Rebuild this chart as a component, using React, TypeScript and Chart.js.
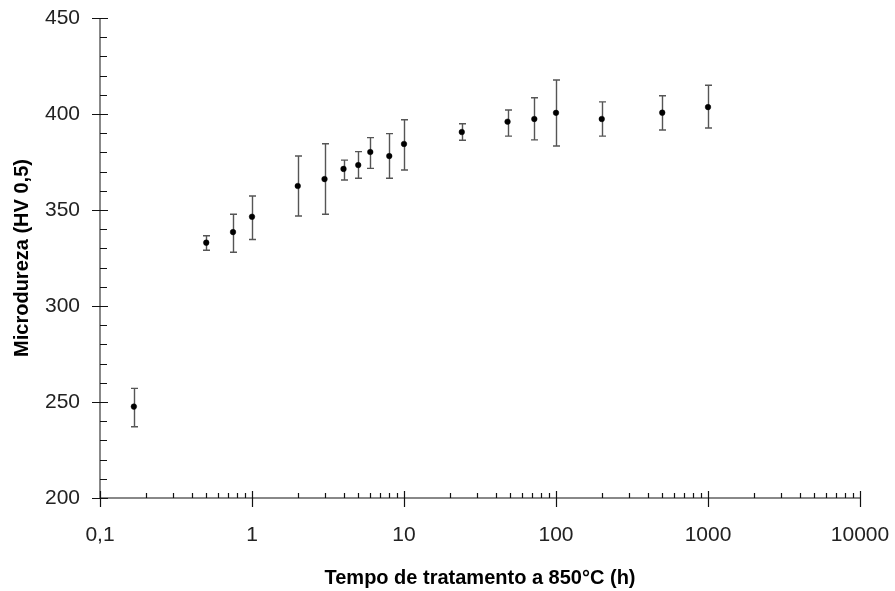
import React, { useEffect, useRef } from 'react';
import { Chart, registerables } from 'chart.js';

Chart.register(...registerables);

// Treatment time at 850°C (h)
const times = [0.167, 0.5, 0.75, 1, 2, 3, 4, 5, 6, 8, 10, 24, 48, 72, 100, 200, 500, 1000];
// Microhardness HV 0,5 (mean)
const hardness = [247.6, 333, 338.5, 346.5, 362.5, 366.1, 371.4, 373.4, 380.2, 378.1, 384.4, 390.6, 396, 397.4, 400.6, 397.4, 400.7, 403.6];
// Error bar limits
const errHigh = [257.1, 336.6, 347.8, 357.3, 378.1, 384.5, 376, 380.4, 387.7, 389.8, 397, 394.9, 402.1, 408.5, 417.7, 406.3, 409.5, 415];
const errLow = [237.1, 329, 328, 334.6, 346.9, 347.8, 365.6, 366.5, 371.7, 366.5, 370.8, 386.3, 388.5, 386.5, 383.3, 388.5, 391.7, 392.7];

const xTickValues = [0.1, 1, 10, 100, 1000, 10000];
const xTickLabels = ['0,1', '1', '10', '100', '1000', '10000'];
const yMin = 200;
const yMax = 450;
const yMajorStep = 50;
const yMinorStep = 10;

const xAxisTitle = 'Tempo de tratamento a 850°C (h)';
const yAxisTitle = 'Microdureza (HV 0,5)';

const FONT = '"Liberation Sans", Arial, sans-serif';

const errorBarsPlugin = {
  id: 'errorBars',
  beforeDatasetsDraw(chart: any) {
    const { ctx, scales } = chart;
    const x = scales.x;
    const y = scales.y;
    ctx.save();
    ctx.strokeStyle = '#555';
    ctx.lineWidth = 1.4;
    times.forEach((t, i) => {
      const px = Math.round(x.getPixelForValue(t)) + 0.5;
      const top = y.getPixelForValue(errHigh[i]);
      const bot = y.getPixelForValue(errLow[i]);
      ctx.beginPath();
      ctx.moveTo(px, top);
      ctx.lineTo(px, bot);
      ctx.moveTo(px - 3.5, top);
      ctx.lineTo(px + 3.5, top);
      ctx.moveTo(px - 3.5, bot);
      ctx.lineTo(px + 3.5, bot);
      ctx.stroke();
    });
    ctx.restore();
  },
};

const axesPlugin = {
  id: 'axesDraw',
  afterDraw(chart: any) {
    const { ctx, scales, chartArea } = chart;
    const x = scales.x;
    const y = scales.y;
    const left = chartArea.left;
    const bottom = chartArea.bottom;
    ctx.save();
    // axis lines
    ctx.strokeStyle = '#888';
    ctx.lineWidth = 2;
    ctx.beginPath();
    ctx.moveTo(left, y.getPixelForValue(yMax));
    ctx.lineTo(left, bottom);
    ctx.lineTo(x.getPixelForValue(xTickValues[xTickValues.length - 1]), bottom);
    ctx.stroke();
    // ticks
    ctx.strokeStyle = '#111';
    ctx.lineWidth = 1.2;
    ctx.beginPath();
    for (let v = yMin; v <= yMax + 0.001; v += yMinorStep) {
      const py = Math.round(y.getPixelForValue(v)) + 0.5;
      if (Math.abs(v % yMajorStep) < 0.001) {
        ctx.moveTo(left - 8, py);
        ctx.lineTo(left + 8, py);
      } else {
        ctx.moveTo(left, py);
        ctx.lineTo(left + 7, py);
      }
    }
    xTickValues.forEach((d, idx) => {
      const px = Math.round(x.getPixelForValue(d)) + 0.5;
      ctx.moveTo(px, bottom - 7);
      ctx.lineTo(px, bottom + 9);
      if (idx < xTickValues.length - 1) {
        for (let m = 2; m <= 9; m++) {
          const mx = Math.round(x.getPixelForValue(d * m)) + 0.5;
          ctx.moveTo(mx, bottom - 5);
          ctx.lineTo(mx, bottom);
        }
      }
    });
    ctx.stroke();
    ctx.restore();
  },
};

const zeroPaddings = (scale: any) => {
  scale.paddingLeft = 0;
  scale.paddingRight = 0;
  scale.paddingTop = 0;
  scale.paddingBottom = 0;
};

export default function App() {
  const canvasRef = useRef<HTMLCanvasElement | null>(null);

  useEffect(() => {
    if (!canvasRef.current) return;
    const chart = new Chart(canvasRef.current, {
      type: 'scatter',
      data: {
        datasets: [
          {
            label: 'Microdureza',
            data: times.map((t, i) => ({ x: t, y: hardness[i] })),
            backgroundColor: '#000',
            borderColor: '#000',
            pointStyle: 'circle',
            pointRadius: 2.8,
            pointBorderWidth: 0.5,
          },
        ],
      },
      options: {
        responsive: false,
        animation: false,
        devicePixelRatio: 1,
        layout: { padding: { left: 0, right: 35, top: 18, bottom: 0 } },
        plugins: {
          legend: { display: false },
          tooltip: { enabled: false },
        },
        scales: {
          x: {
            type: 'logarithmic',
            min: xTickValues[0],
            max: xTickValues[xTickValues.length - 1],
            afterBuildTicks: (scale: any) => {
              scale.ticks = xTickValues.map((v) => ({ value: v }));
            },
            afterFit: (scale: any) => {
              scale.height = 93;
              zeroPaddings(scale);
            },
            grid: { display: false, drawTicks: false },
            border: { display: false },
            ticks: {
              autoSkip: false,
              maxRotation: 0,
              padding: 25,
              color: '#222',
              font: { family: FONT, size: 21 },
              callback: (value: any) => {
                const idx = xTickValues.indexOf(Number(value));
                return idx >= 0 ? xTickLabels[idx] : '';
              },
            },
            title: {
              display: true,
              text: xAxisTitle,
              color: '#000',
              font: { family: FONT, size: 20, weight: 'bold' },
              padding: { top: 0, bottom: 1 },
            },
          },
          y: {
            type: 'linear',
            min: yMin,
            max: yMax,
            afterFit: (scale: any) => {
              scale.width = 100;
              zeroPaddings(scale);
            },
            grid: { display: false, drawTicks: false },
            border: { display: false },
            ticks: {
              stepSize: yMajorStep,
              padding: 20,
              color: '#222',
              font: { family: FONT, size: 21 },
            },
            title: {
              display: true,
              text: yAxisTitle,
              color: '#000',
              font: { family: FONT, size: 20, weight: 'bold' },
              padding: { top: 10, bottom: 0 },
            },
          },
        },
      },
      plugins: [errorBarsPlugin, axesPlugin],
    });
    return () => chart.destroy();
  }, []);

  return (
    <div style={{ position: 'fixed', left: 0, top: 0, width: 895, height: 591, background: '#fff' }}>
      <canvas ref={canvasRef} width={895} height={591} style={{ display: 'block', width: 895, height: 591 }} />
    </div>
  );
}
